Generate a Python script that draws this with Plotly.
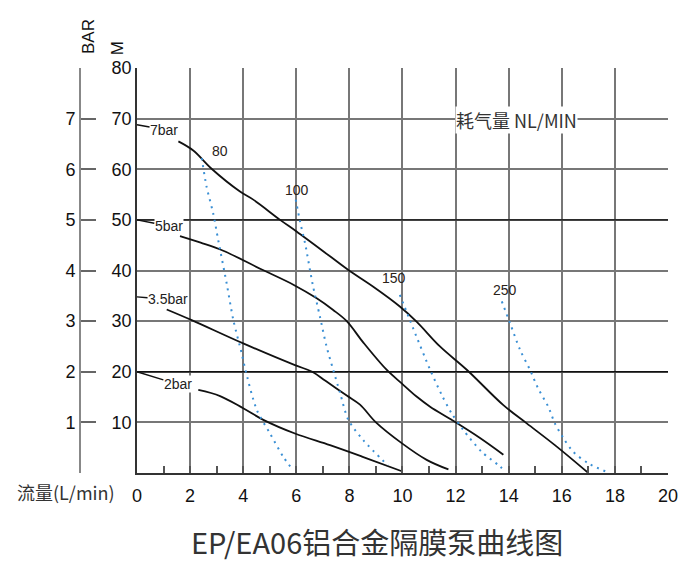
import plotly.graph_objects as go

# ---------------- data ----------------
x_7bar = [1.56, 2.12, 2.81, 3.88, 4.38, 5.39, 6.01, 7.27, 7.96, 8.9, 9.9, 10.53, 11.41, 12.42, 13.8, 14.68, 15.74, 17.0]
y_7bar = [65.5, 63.7, 60.1, 55.6, 54.0, 50.0, 47.7, 42.8, 40.1, 36.8, 32.9, 29.9, 25.0, 20.4, 13.4, 9.8, 5.5, 0.0]

x_5bar = [1.62, 2.4, 3.25, 4.7, 5.89, 6.77, 7.39, 7.9, 8.52, 9.4, 9.97, 10.53, 11.04, 11.85, 12.92, 13.8]
y_5bar = [46.8, 45.5, 43.9, 40.2, 37.2, 34.5, 32.2, 30.0, 25.8, 20.4, 17.7, 15.1, 13.1, 10.5, 6.9, 3.6]

x_35bar = [1.12, 2.06, 4.0, 5.95, 6.6, 7.1, 7.9, 8.4, 9.0, 9.97, 10.91, 11.73]
y_35bar = [32.3, 30.2, 25.6, 21.3, 20.0, 18.2, 15.3, 13.5, 10.0, 5.9, 2.6, 0.7]

x_2bar = [2.31, 3.13, 4.0, 4.76, 5.95, 7.27, 8.5, 9.95]
y_2bar = [16.4, 15.2, 12.8, 10.5, 7.8, 5.5, 3.2, 0.4]

x_air80 = [2.44, 2.62, 2.87, 3.06, 3.38, 3.63, 3.94, 4.07, 4.51, 5.01, 5.51, 5.89]
y_air80 = [62.2, 56.6, 51.3, 46.0, 37.4, 30.2, 23.7, 20.7, 12.5, 7.8, 3.2, 0.5]

x_air100 = [5.98, 6.14, 6.33, 6.62, 6.89, 7.14, 7.39, 7.65, 7.96, 8.52, 9.45]
y_air100 = [54.0, 49.7, 45.4, 37.2, 30.9, 25.0, 20.4, 15.8, 10.5, 6.5, 1.5]

x_air150 = [9.9, 10.4, 11.04, 11.48, 11.85, 12.29, 12.98, 13.67, 13.86]
y_air150 = [35.2, 28.6, 20.4, 15.4, 11.8, 8.5, 4.2, 1.3, 0.3]

x_air250 = [13.74, 14.05, 14.43, 14.8, 15.11, 15.49, 15.74, 16.06, 16.43, 17.0, 17.75]
y_air250 = [33.9, 29.6, 24.3, 20.4, 16.7, 13.1, 9.8, 6.9, 4.2, 1.9, 0.1]

pressure_names = ["7bar", "5bar", "3.5bar", "2bar"]
pressure_start_y = [68.8, 50.0, 34.8, 20.0]
pressure_label_x = [1.02, 1.2, 1.17, 1.54]
pressure_label_y = [67.8, 48.8, 34.3, 17.5]

air_names = ["80", "100", "150", "250"]
air_label_x = [3.13, 6.03, 9.68, 13.86]
air_label_y = [63.6, 55.9, 38.5, 36.2]

x_ticks = list(range(0, 21, 2))
x_minor = list(range(1, 20, 2))
m_ticks = list(range(10, 81, 10))
bar_ticks = list(range(0, 9))
bar_text = ["", "1", "2", "3", "4", "5", "6", "7", ""]
dark_grid = [20, 50]

# ---------------- figure ----------------
NUM_FONT = "Liberation Sans, Arial, sans-serif"
CJK_FONT = "Noto Sans CJK SC, sans-serif"

fig = go.Figure()

for xs, ys in [(x_7bar, y_7bar), (x_5bar, y_5bar), (x_35bar, y_35bar), (x_2bar, y_2bar)]:
    fig.add_trace(go.Scatter(x=xs, y=ys, mode="lines",
                             line=dict(color="#111111", width=1.8, shape="spline", smoothing=1.0),
                             showlegend=False, hoverinfo="skip"))

for xs, ys in [(x_air80, y_air80), (x_air100, y_air100), (x_air150, y_air150), (x_air250, y_air250)]:
    fig.add_trace(go.Scatter(x=xs, y=ys, mode="lines",
                             line=dict(color="#3a8fd4", width=2, dash="2px,5px", shape="spline", smoothing=0.8),
                             showlegend=False, hoverinfo="skip"))

# dummy trace for the BAR axis
fig.add_trace(go.Scatter(x=[None], y=[None], yaxis="y2", showlegend=False, hoverinfo="skip"))

annotations = []
for name, y0, lx, ly in zip(pressure_names, pressure_start_y, pressure_label_x, pressure_label_y):
    annotations.append(dict(x=0, y=y0, xref="x", yref="y", ax=lx, ay=ly, axref="x", ayref="y",
                            text=name, showarrow=True, arrowhead=0, arrowwidth=1.4, arrowcolor="#111",
                            standoff=0, bgcolor="white", borderpad=0,
                            font=dict(family=NUM_FONT, size=14, color="#222")))
for name, lx, ly in zip(air_names, air_label_x, air_label_y):
    annotations.append(dict(x=lx, y=ly, xref="x", yref="y", text=name, showarrow=False,
                            font=dict(family=NUM_FONT, size=14, color="#2a2218")))

annotations.append(dict(x=14.31, y=69.8, xref="x", yref="y", text="耗气量 NL/MIN", showarrow=False,
                        bgcolor="white", borderpad=0,
                        font=dict(family=CJK_FONT, size=18, color="#333")))
annotations.append(dict(x=0.521, y=-0.168, xref="paper", yref="paper", text="EP/EA06铝合金隔膜泵曲线图",
                        showarrow=False, xanchor="center", yanchor="middle",
                        font=dict(family=CJK_FONT, size=29, color="#333")))
annotations.append(dict(x=0.0099, y=-0.047, xref="paper", yref="paper", text="流量(L/min)",
                        showarrow=False, xanchor="center", yanchor="middle",
                        font=dict(family=CJK_FONT, size=18, color="#333")))
annotations.append(dict(x=0.046, y=1.079, xref="paper", yref="paper", text="BAR", textangle=-90,
                        showarrow=False, xanchor="center", yanchor="middle",
                        font=dict(family=NUM_FONT, size=17, color="#111")))
annotations.append(dict(x=0.094, y=1.049, xref="paper", yref="paper", text="M", textangle=-90,
                        showarrow=False, xanchor="center", yanchor="middle",
                        font=dict(family=NUM_FONT, size=17, color="#111")))

shapes = [dict(type="line", xref="x", yref="y", x0=0, x1=20, y0=v, y1=v,
               line=dict(color="#111", width=1.3), layer="between") for v in dark_grid]

# page body has an 8px default margin -> margins reduced by 8px to compensate
fig.update_layout(
    width=700, height=564,
    margin=dict(l=52, r=40, t=60, b=99),
    paper_bgcolor="white", plot_bgcolor="white",
    showlegend=False,
    annotations=annotations,
    shapes=shapes,
    xaxis=dict(range=[0, 20], domain=[0.1266, 1], tickvals=x_ticks, automargin=False,
               ticks="inside", ticklen=7, tickcolor="#555", tickwidth=1.5,
               minor=dict(tickvals=x_minor, ticks="inside", ticklen=7, tickcolor="#555", tickwidth=1.5, showgrid=False),
               showgrid=True, gridcolor="#777", gridwidth=1.5,
               showline=True, linecolor="#333", linewidth=1.5, zeroline=False,
               ticklabelstandoff=6,
               tickfont=dict(family=NUM_FONT, size=18, color="#111")),
    yaxis=dict(range=[0, 80], tickvals=m_ticks, ticks="", automargin=False,
               showgrid=True, gridcolor="#777", gridwidth=1.5,
               showline=True, linecolor="#333", linewidth=1.5, zeroline=False,
               tickfont=dict(family=NUM_FONT, size=18, color="#111")),
    yaxis2=dict(range=[0, 8], overlaying="y", anchor="free", position=0.0329, side="left",
                automargin=False,
                tickvals=bar_ticks, ticktext=bar_text, ticks="inside", ticklen=15,
                tickcolor="#666", tickwidth=1.5,
                showline=True, linecolor="#888", linewidth=2, showgrid=False, zeroline=False,
                tickfont=dict(family=NUM_FONT, size=18, color="#111")),
)

fig.write_html("out.html")
